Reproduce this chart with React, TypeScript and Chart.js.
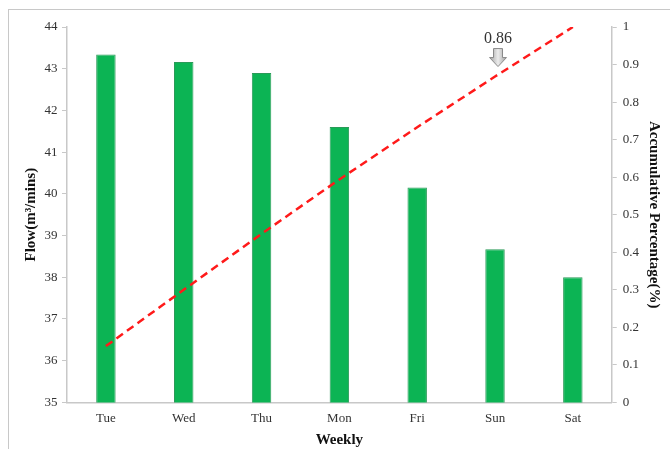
import React, { useEffect, useRef } from "react";
import { Chart, registerables } from "chart.js";

Chart.register(...registerables);

const days = ["Tue", "Wed", "Thu", "Mon", "Fri", "Sun", "Sat"];
const flow = [43.34, 43.16, 42.9, 41.6, 40.15, 38.67, 38.0];
const cumulative = [0.15, 0.3, 0.449, 0.594, 0.733, 0.868, 1.0];
const annotationLabel = "0.86";
const annotationIndex = 5;
const annotationValue = 0.868;

const FONT = "'Liberation Serif', 'Times New Roman', serif";

const arrowPlugin = {
  id: "arrowAnnot",
  afterDatasetsDraw(chart: any) {
    const ctx = chart.ctx;
    const xs = chart.scales.x;
    const y1 = chart.scales.y1;
    const cx = xs.getPixelForValue(annotationIndex) + 3;
    const tipY = y1.getPixelForValue(annotationValue) - 10;
    ctx.save();
    const g = ctx.createLinearGradient(cx - 9, 0, cx + 9, 0);
    g.addColorStop(0, "#9a9a9a");
    g.addColorStop(0.5, "#ececec");
    g.addColorStop(1, "#9a9a9a");
    ctx.fillStyle = g;
    ctx.strokeStyle = "#8a8a8a";
    ctx.lineWidth = 1;
    ctx.beginPath();
    ctx.moveTo(cx - 4.5, tipY - 18);
    ctx.lineTo(cx + 4.5, tipY - 18);
    ctx.lineTo(cx + 4.5, tipY - 9);
    ctx.lineTo(cx + 8.5, tipY - 9);
    ctx.lineTo(cx, tipY);
    ctx.lineTo(cx - 8.5, tipY - 9);
    ctx.lineTo(cx - 4.5, tipY - 9);
    ctx.closePath();
    ctx.fill();
    ctx.stroke();
    ctx.fillStyle = "#333";
    ctx.font = "16px " + FONT;
    ctx.textAlign = "center";
    ctx.textBaseline = "bottom";
    ctx.fillText(annotationLabel, cx, tipY - 20);
    ctx.restore();
  },
};

export default function App() {
  const ref = useRef<HTMLCanvasElement>(null);
  useEffect(() => {
    if (!ref.current) return;
    const chart = new Chart(ref.current, {
      type: "bar",
      data: {
        labels: days,
        datasets: [
          {
            type: "line",
            data: cumulative,
            yAxisID: "y1",
            borderColor: "#ff1a1a",
            borderWidth: 2.5,
            borderDash: [8, 5],
            pointRadius: 0,
            tension: 0,
            order: 0,
          } as any,
          {
            type: "bar",
            data: flow,
            yAxisID: "y",
            backgroundColor: "#0cb454",
            borderColor: "#2a9a58",
            borderWidth: 1,
            categoryPercentage: 1,
            barPercentage: 0.25,
            order: 1,
          },
        ],
      },
      options: {
        animation: false,
        responsive: false,
        maintainAspectRatio: false,
        layout: { padding: { top: 27, left: 22, right: 1, bottom: 0 } },
        plugins: { legend: { display: false }, tooltip: { enabled: false } },
        scales: {
          x: {
            offset: true,
            grid: { display: false },
            border: { display: true, color: "#c8c8c8", width: 1.5 },
            ticks: { color: "#333", font: { family: FONT, size: 13 }, padding: 0 },
            title: {
              display: true,
              text: "Weekly",
              color: "#111",
              font: { family: FONT, size: 15, weight: "bold" },
              padding: { top: 5, bottom: 0 },
            },
          },
          y: {
            position: "left",
            min: 35,
            max: 44,
            ticks: { stepSize: 1, color: "#333", font: { family: FONT, size: 13 }, padding: 4.5 },
            grid: { drawOnChartArea: false, tickLength: 5, color: "#c8c8c8" },
            border: { display: true, color: "#c8c8c8", width: 1.5 },
            title: {
              display: true,
              text: "Flow(m³/mins)",
              color: "#111",
              font: { family: FONT, size: 15, weight: "bold" },
              padding: { top: 0, bottom: 0 },
            },
          },
          y1: {
            position: "right",
            min: 0,
            max: 1,
            ticks: {
              stepSize: 0.1,
              color: "#333",
              font: { family: FONT, size: 13 },
              padding: 6,
              callback: (v: any) => String(Number(Number(v).toFixed(1))),
            },
            grid: { drawOnChartArea: false, tickLength: 5, color: "#c8c8c8" },
            border: { display: true, color: "#c8c8c8", width: 1.5 },
            title: {
              display: true,
              text: "Accumulative Percentage(%)",
              color: "#111",
              font: { family: FONT, size: 15, weight: "bold" },
              padding: { top: 6, bottom: 0 },
            },
          },
        },
      },
      plugins: [arrowPlugin],
    });
    return () => chart.destroy();
  }, []);
  return (
    <div style={{ position: "fixed", left: 0, top: 0, width: 670, height: 449, background: "#fff" }}>
      <div
        style={{
          position: "absolute",
          left: 8,
          top: 9,
          width: 662,
          height: 445,
          borderLeft: "1px solid #c8c8c8",
          borderTop: "1px solid #c8c8c8",
        }}
      />
      <canvas ref={ref} width={670} height={449} style={{ position: "absolute", left: 0, top: 0 }} />
    </div>
  );
}
